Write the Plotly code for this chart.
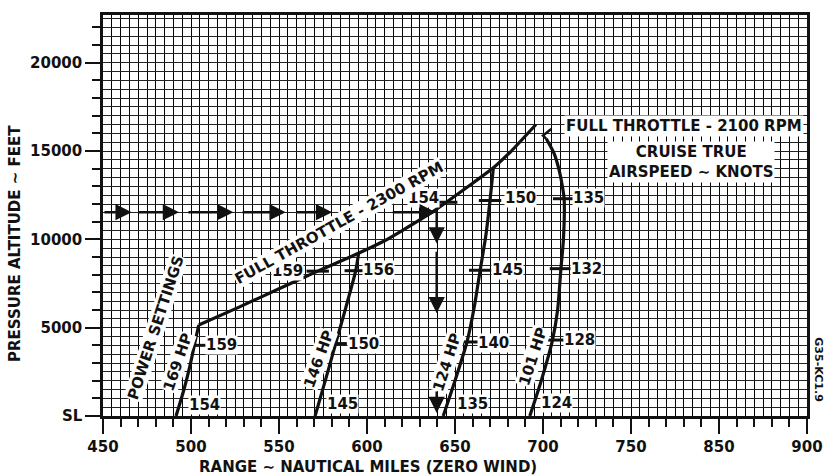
import plotly.graph_objects as go

# ---------------- axis ticks ----------------
x_tickvals = [450, 500, 550, 600, 650, 700, 750, 800, 850]
x_ticktext = ["450", "500", "550", "600", "650", "700", "750", "850", "900"]
x_minor = [v for v in range(450, 851, 10)]
y_tickvals = [0, 5000, 10000, 15000, 20000]
y_ticktext = ["SL", "5000", "10000", "15000", "20000"]
y_minor = [v for v in range(0, 22001, 1000)]

# ---------------- curves (range nm, altitude ft) ----------------
hp169_range = [491.5, 496.0, 499.7, 502.5, 504.4]
hp169_alt = [0, 1500, 2970, 4290, 5150]

ft2300_range = [504.4, 527, 550, 572, 592, 610, 620, 637, 661, 671.8, 682, 696]
ft2300_alt = [5150, 6150, 7200, 8200, 9070, 9920, 10500, 11540, 13250, 14050, 15000, 16500]

hp146_range = [570.5, 576.3, 582.2, 588.0, 593.6, 595.2]
hp146_alt = [0, 2000, 4100, 6150, 8225, 9190]

hp124_range = [643.3, 650.0, 656.8, 661.0, 664.3, 667.5, 669.9, 671.8]
hp124_alt = [0, 2000, 4190, 6200, 8250, 10200, 12200, 14050]

hp101_range = [692.5, 699.0, 705.4, 708.3, 710.2, 711.6, 712.0, 711.0, 709.2, 706.4, 701.9]
hp101_alt = [0, 2000, 4300, 6000, 8340, 10000, 12300, 13000, 13900, 14840, 15690]

ft2100_range = [701.9, 700.0, 704.7]
ft2100_alt = [15690, 15870, 16250]

# ---------------- true airspeed ticks on the curves ----------------
tas_tick_range = [501.9, 572.0, 582.2, 593.6, 645.0, 656.8, 664.3, 669.9, 705.4, 710.2, 712.0]
tas_tick_alt = [4000, 8200, 4100, 8225, 12100, 4190, 8250, 12200, 4300, 8340, 12300]

tas_text = ["154", "159", "159", "145", "150", "156", "154", "135", "140", "145",
            "150", "124", "128", "132", "135"]
tas_range = [507.8, 517.3, 555.0, 585.8, 598.0, 606.5, 632.3, 659.8, 671.6, 680.0,
             687.3, 707.5, 721.0, 724.9, 726.0]
tas_alt = [650, 4000, 8225, 700, 4100, 8250, 12350, 700, 4150, 8280,
           12350, 760, 4290, 8340, 12340]

# ---------------- power setting labels ----------------
hp_text = ["169 HP", "146 HP", "124 HP", "101 HP"]
hp_range = [492.6, 572.7, 645.2, 694.2]
hp_alt = [3040, 3210, 3020, 3350]

# ---------------- example arrows ----------------
arrow_alt = 11540
arrow_h_tail = [450.0, 469.6, 497.7, 528.5, 559.4, 613.8]
arrow_h_head = [466.3, 493.2, 524.1, 553.8, 580.2, 639.1]
arrow_v_range = 639.6
arrow_v_tail = [11700, 9380, 1470]
arrow_v_head = [9770, 5820, 170]

FONT = "DejaVu Sans"
BLACK = "#111111"
TXT = dict(family=FONT, size=15, color=BLACK, weight="bold")

fig = go.Figure()

# invisible trace to carry the fine grid axes
fig.add_trace(go.Scatter(x=[450], y=[0], xaxis="x2", yaxis="y2", mode="markers",
                         marker=dict(opacity=0), hoverinfo="skip", showlegend=False))

line_style = dict(color=BLACK, width=3.2)
for xr, ya in [(hp169_range, hp169_alt), (ft2300_range, ft2300_alt),
               (hp146_range, hp146_alt), (hp124_range, hp124_alt),
               (hp101_range, hp101_alt)]:
    fig.add_trace(go.Scatter(x=xr, y=ya, mode="lines", line=dict(shape="spline", smoothing=0.6, **line_style),
                             hoverinfo="skip", showlegend=False))
fig.add_trace(go.Scatter(x=ft2100_range, y=ft2100_alt, mode="lines",
                         line=dict(color=BLACK, width=2.5), hoverinfo="skip", showlegend=False))

fig.add_trace(go.Scatter(x=tas_tick_range, y=tas_tick_alt, mode="markers",
                         marker=dict(symbol="line-ew", size=16, line=dict(color=BLACK, width=3)),
                         hoverinfo="skip", showlegend=False))

annotations = []
for t, xv, yv in zip(tas_text, tas_range, tas_alt):
    annotations.append(dict(x=xv, y=yv, text=t, showarrow=False, bgcolor="white", borderpad=0,
                            font=TXT))

hp_angles = [-71, -70, -72, -72]
for t, xv, yv, a in zip(hp_text, hp_range, hp_alt, hp_angles):
    annotations.append(dict(x=xv, y=yv, text=t, textangle=a, showarrow=False, bgcolor="white",
                            borderpad=0, font=TXT))

annotations.append(dict(x=480, y=4970, text="POWER SETTINGS", textangle=-72, showarrow=False,
                        bgcolor="white", borderpad=0, font=TXT))
annotations.append(dict(x=584, y=10950, text="FULL THROTTLE - 2300 RPM", textangle=-29, showarrow=False,
                        bgcolor="white", borderpad=0, font=TXT))
annotations.append(dict(x=780.2, y=16400, text="FULL THROTTLE - 2100 RPM", showarrow=False,
                        bgcolor="white", borderpad=1, font=TXT))
annotations.append(dict(x=784, y=14400, text="CRUISE TRUE<br>AIRSPEED ∼ KNOTS", showarrow=False,
                        bgcolor="white", borderpad=1, font=TXT))

for tail, head in zip(arrow_h_tail, arrow_h_head):
    annotations.append(dict(x=head, y=arrow_alt, ax=tail, ay=arrow_alt, axref="x", ayref="y",
                            text="", showarrow=True, arrowhead=2, arrowsize=1.3, arrowwidth=2.5,
                            arrowcolor=BLACK, standoff=0, startstandoff=0))
for tail, head in zip(arrow_v_tail, arrow_v_head):
    annotations.append(dict(x=arrow_v_range, y=head, ax=arrow_v_range, ay=tail, axref="x", ayref="y",
                            text="", showarrow=True, arrowhead=2, arrowsize=1.3, arrowwidth=2.5,
                            arrowcolor=BLACK, standoff=0, startstandoff=0))

# axis titles and drawing number
annotations.append(dict(xref="paper", yref="paper", x=0.377, y=-0.127, xanchor="center", yanchor="middle",
                        text="RANGE ∼ NAUTICAL MILES (ZERO WIND)", showarrow=False, font=TXT))
annotations.append(dict(xref="paper", yref="paper", x=-0.125, y=0.429, xanchor="center", yanchor="middle",
                        text="PRESSURE ALTITUDE ∼ FEET", textangle=-90, showarrow=False, font=TXT))
annotations.append(dict(xref="paper", yref="paper", x=1.0168, y=0.1144, xanchor="center", yanchor="middle",
                        text="G35-KC1.9", textangle=90, showarrow=False,
                        font=dict(family=FONT, size=11, color=BLACK, weight="bold")))

XR = [450, 850]
YR = [0, 22700]

fig.update_layout(
    width=835, height=476,
    margin=dict(l=103, r=19, t=14, b=60),
    paper_bgcolor="white", plot_bgcolor="white",
    showlegend=False,
    font=TXT,
    annotations=annotations,
    xaxis=dict(range=XR, tickmode="array", tickvals=x_tickvals, ticktext=x_ticktext,
               ticks="outside", ticklen=15, tickwidth=2, tickcolor=BLACK,
               showline=True, linewidth=2.5, linecolor=BLACK, mirror=True,
               showgrid=False, zeroline=False, ticklabelstandoff=0,
               tickfont=TXT,
               minor=dict(tickmode="array", tickvals=x_minor, ticks="outside", ticklen=8,
                          tickwidth=2, tickcolor=BLACK, showgrid=False)),
    yaxis=dict(range=YR, tickmode="array", tickvals=y_tickvals, ticktext=y_ticktext,
               ticks="outside", ticklen=15, tickwidth=2, tickcolor=BLACK,
               showline=True, linewidth=2.5, linecolor=BLACK, mirror=True,
               showgrid=False, zeroline=False, ticklabelstandoff=0,
               tickfont=TXT,
               minor=dict(tickmode="array", tickvals=y_minor, ticks="outside", ticklen=8,
                          tickwidth=2, tickcolor=BLACK, showgrid=False)),
    xaxis2=dict(range=XR, overlaying="x", anchor="y", tickmode="linear", tick0=450, dtick=5,
                showgrid=True, gridcolor="#000000", gridwidth=1, showticklabels=False,
                ticks="", showline=False, zeroline=False),
    yaxis2=dict(range=YR, overlaying="y", anchor="x", tickmode="linear", tick0=0, dtick=500,
                showgrid=True, gridcolor="#222222", gridwidth=1, showticklabels=False,
                ticks="", showline=False, zeroline=False),
)

fig.write_html("out.html")
